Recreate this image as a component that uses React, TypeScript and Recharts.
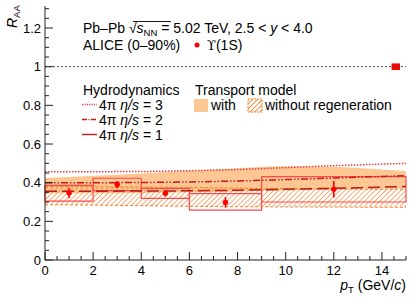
import {
  ComposedChart,
  XAxis,
  YAxis,
  Area,
  Line,
  Scatter,
  ErrorBar,
  ReferenceArea,
  ReferenceLine,
} from 'recharts';

// model curves, sampled at these pT values
const modelPt = [0, 2, 4, 6, 8, 10, 12, 14, 15];
const regenLow = [0.345, 0.345, 0.347, 0.35, 0.355, 0.36, 0.365, 0.368, 0.37];
const regenHigh = [0.424, 0.436, 0.448, 0.462, 0.475, 0.485, 0.482, 0.468, 0.46];
const noRegenLow = [0.286, 0.284, 0.281, 0.278, 0.276, 0.275, 0.274, 0.273, 0.273];
const noRegenHigh = [0.38, 0.379, 0.377, 0.375, 0.372, 0.369, 0.367, 0.366, 0.366];
const hydro3 = [0.457, 0.457, 0.458, 0.462, 0.468, 0.478, 0.488, 0.496, 0.5];
const hydro2 = [0.4, 0.4, 0.401, 0.404, 0.409, 0.416, 0.424, 0.432, 0.436];
const hydro1 = [0.356, 0.356, 0.357, 0.358, 0.361, 0.366, 0.371, 0.377, 0.38];

// ALICE Upsilon(1S) RAA
const binLow = [0, 2, 4, 6, 9];
const binHigh = [2, 4, 6, 9, 15];
const ptCenter = [1, 3, 5, 7.5, 12];
const raa = [0.347, 0.391, 0.345, 0.298, 0.366];
const statErr = [0.027, 0.018, 0.015, 0.027, 0.043];
const sysLow = [0.305, 0.359, 0.319, 0.258, 0.3];
const sysHigh = [0.386, 0.423, 0.371, 0.343, 0.431];

// global uncertainty box at unity
const globalBox = { x1: 14.4, x2: 14.75, y1: 0.983, y2: 1.017 };

const xMajor = [0, 2, 4, 6, 8, 10, 12, 14];
const yMajor = [0, 0.2, 0.4, 0.6, 0.8, 1, 1.2];
const xTicks = Array.from({ length: 31 }, (_, i) => i * 0.5);
const yTicks = Array.from({ length: 27 }, (_, i) => Math.round(i * 5) / 100);

const modelRows = modelPt.map((pt, i) => ({
  pt,
  regen: [regenLow[i], regenHigh[i]],
  noRegen: [noRegenLow[i], noRegenHigh[i]],
  noRegenLow: noRegenLow[i],
  noRegenHigh: noRegenHigh[i],
  hydro3: hydro3[i],
  hydro2: hydro2[i],
  hydro1: hydro1[i],
}));

const points = ptCenter.map((pt, i) => ({ pt, raa: raa[i], err: statErr[i] }));

const FONT = '"Liberation Sans", Arial, sans-serif';
const AXIS = '#222';
const ORANGE = '#f7802a';
const LIGHT = '#fdc793';

const isMajor = (v: number, majors: number[]) => majors.some(m => Math.abs(m - v) < 1e-6);

const LeftTick = ({ x, y, payload }: any) => {
  const major = isMajor(payload.value, yMajor);
  return (
    <g>
      <line x1={x} x2={x + (major ? 8 : 4)} y1={y} y2={y} stroke={AXIS} />
      {major && (
        <text x={x - 4} y={y + 4.5} textAnchor='end' fontSize={13} fontFamily={FONT} fill='#000'>
          {payload.value === 0 || payload.value === 1 ? String(payload.value) : payload.value.toFixed(1)}
        </text>
      )}
    </g>
  );
};

const RightTick = ({ x, y, payload }: any) => {
  const major = isMajor(payload.value, yMajor);
  return <line x1={x - (major ? 8 : 4)} x2={x} y1={y} y2={y} stroke={AXIS} />;
};

const BottomTick = ({ x, y, payload }: any) => {
  const major = isMajor(payload.value, xMajor);
  return (
    <g>
      <line x1={x} x2={x} y1={y} y2={y - (major ? 8 : 4)} stroke={AXIS} />
      {major && (
        <text x={x} y={y + 15} textAnchor='middle' fontSize={13} fontFamily={FONT} fill='#000'>
          {payload.value}
        </text>
      )}
    </g>
  );
};

const TopTick = ({ x, y, payload }: any) => {
  const major = isMajor(payload.value, xMajor);
  return <line x1={x} x2={x} y1={y} y2={y + (major ? 8 : 4)} stroke={AXIS} />;
};

export default function App() {
  return (
    <div style={{ position: 'absolute', left: 0, top: 0, width: 415, height: 300, background: '#fff' }}>
      <ComposedChart
        width={415}
        height={300}
        data={modelRows}
        margin={{ top: 6, right: 9, bottom: 0, left: 0 }}
      >
        <defs>
          <pattern id='hatch' width='3.6' height='3.6' patternUnits='userSpaceOnUse' patternTransform='rotate(45)'>
            <line x1='0' y1='0' x2='0' y2='3.6' stroke={ORANGE} strokeWidth='1.3' />
          </pattern>
        </defs>
        <XAxis
          dataKey='pt'
          type='number'
          domain={[0, 15]}
          ticks={xTicks}
          interval={0}
          height={40}
          tickSize={0}
          tickMargin={0}
          tickLine={false}
          tick={BottomTick}
          axisLine={{ stroke: AXIS }}
        />
        <XAxis
          xAxisId='top'
          orientation='top'
          type='number'
          domain={[0, 15]}
          ticks={xTicks}
          interval={0}
          height={0}
          tickSize={0}
          tickMargin={0}
          tickLine={false}
          tick={TopTick}
          axisLine={{ stroke: AXIS }}
        />
        <YAxis
          type='number'
          domain={[0, 1.314]}
          ticks={yTicks}
          interval={0}
          width={45}
          tickSize={0}
          tickMargin={0}
          tickLine={false}
          tick={LeftTick}
          axisLine={{ stroke: AXIS }}
        />
        <YAxis
          yAxisId='right'
          orientation='right'
          type='number'
          domain={[0, 1.314]}
          ticks={yTicks}
          interval={0}
          width={0}
          tickSize={0}
          tickMargin={0}
          tickLine={false}
          tick={RightTick}
          axisLine={{ stroke: AXIS }}
        />

        <ReferenceLine y={1} stroke='#444' strokeDasharray='2 2' />
        <ReferenceArea {...globalBox} fill='#ff0000' fillOpacity={1} stroke='none' />

        <Area
          dataKey='regen'
          type='monotone'
          fill={LIGHT}
          fillOpacity={1}
          stroke='none'
          isAnimationActive={false}
        />
        <Area
          dataKey='noRegen'
          type='monotone'
          fill='url(#hatch)'
          fillOpacity={1}
          stroke='none'
          isAnimationActive={false}
        />
        <Line dataKey='noRegenLow' type='monotone' stroke={ORANGE} strokeDasharray='3 2' dot={false} isAnimationActive={false} />
        <Line dataKey='noRegenHigh' type='monotone' stroke={ORANGE} strokeDasharray='3 2' dot={false} isAnimationActive={false} />

        <Line dataKey='hydro3' type='monotone' stroke='#e2404a' strokeWidth={1.5} strokeDasharray='1.5 1.5' dot={false} isAnimationActive={false} />
        <Line dataKey='hydro2' type='monotone' stroke='#c81818' strokeWidth={1.5} strokeDasharray='7 2 1.5 2 1.5 2' dot={false} isAnimationActive={false} />
        <Line dataKey='hydro1' type='monotone' stroke='#b81c1c' strokeWidth={1.5} strokeDasharray='12 5' dot={false} isAnimationActive={false} />

        {binLow.map((b, i) => (
          <ReferenceArea
            key={i}
            x1={b}
            x2={binHigh[i]}
            y1={sysLow[i]}
            y2={sysHigh[i]}
            fill='none'
            fillOpacity={0}
            stroke='#ff4a4a'
            strokeWidth={1.2}
          />
        ))}

        <Scatter
          data={points}
          dataKey='raa'
          isAnimationActive={false}
          shape={(p: any) => <circle cx={p.cx} cy={p.cy} r={2.7} fill='#ff0000' />}
        >
          <ErrorBar dataKey='err' direction='y' width={0} stroke='#ff0000' strokeWidth={1.6} />
        </Scatter>
      </ComposedChart>

      <svg
        width={415}
        height={300}
        style={{ position: 'absolute', left: 0, top: 0, pointerEvents: 'none' }}
        fontFamily={FONT}
      >
        <text transform='translate(17,28) rotate(-90)' fontSize={14} fill='#000'>
          <tspan fontStyle='italic'>R</tspan>
          <tspan fontSize={9.5} dy={3}>AA</tspan>
        </text>

        <text x={406} y={290} textAnchor='end' fontSize={14} fill='#000'>
          <tspan fontStyle='italic'>p</tspan>
          <tspan fontSize={9.5} dy={3}>T</tspan>
          <tspan dy={-3}> (GeV/</tspan>
          <tspan fontStyle='italic'>c</tspan>
          <tspan>)</tspan>
        </text>

        <text x={83} y={33} fontSize={14} fill='#000'>
          <tspan>Pb–Pb √</tspan>
          <tspan fontStyle='italic'>s</tspan>
          <tspan fontSize={9.5} dy={3}>NN</tspan>
          <tspan dy={-3}> = 5.02 TeV, 2.5 &lt; </tspan>
          <tspan fontStyle='italic'>y</tspan>
          <tspan> &lt; 4.0</tspan>
        </text>
        <line x1={133} x2={171} y1={21.5} y2={21.5} stroke='#000' strokeWidth={0.9} />

        <text x={83} y={50} fontSize={14} fill='#000'>ALICE (0–90%)</text>
        <circle cx={197} cy={45} r={2.5} fill='#ff0000' />
        <text x={207} y={50} fontSize={14} fill='#000'>
          <tspan fontFamily='"DejaVu Serif", serif' fontSize={13}>ϒ</tspan>(1S)
        </text>

        <text x={83} y={95} fontSize={14} fill='#000'>Hydrodynamics</text>
        <line x1={82} x2={97} y1={104.5} y2={104.5} stroke='#e2404a' strokeWidth={1.3} strokeDasharray='1.2 1.2' />
        <line x1={82} x2={97} y1={119.5} y2={119.5} stroke='#c81818' strokeWidth={1.3} strokeDasharray='5 1.5 1 1.5' />
        <line x1={82} x2={97} y1={134.5} y2={134.5} stroke='#c0282a' strokeWidth={1.5} />
        {['3', '2', '1'].map((v, i) => (
          <text key={v} x={99} y={109.5 + i * 15} fontSize={14} fill='#000'>
            4π <tspan fontStyle='italic'>η/s</tspan> = {v}
          </text>
        ))}

        <text x={195} y={95} fontSize={14} fill='#000'>Transport model</text>
        <rect x={194} y={99} width={14} height={13} fill={LIGHT} />
        <text x={211} y={109.5} fontSize={14} fill='#000'>with</text>
        <defs>
          <pattern id='hatchLeg' width='3.5' height='3.5' patternUnits='userSpaceOnUse' patternTransform='rotate(45)'>
            <line x1='0' y1='0' x2='0' y2='3.5' stroke={ORANGE} strokeWidth='1.6' />
          </pattern>
        </defs>
        <rect x={248} y={99} width={14} height={13} fill='url(#hatchLeg)' stroke={ORANGE} strokeDasharray='2 1' />
        <text x={265} y={109.5} fontSize={14} fill='#000'>without regeneration</text>
      </svg>
    </div>
  );
}
